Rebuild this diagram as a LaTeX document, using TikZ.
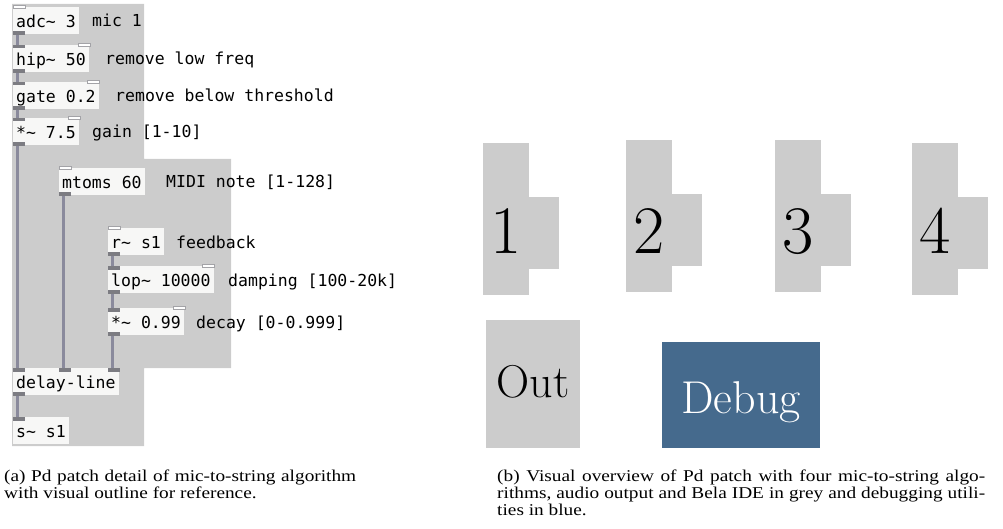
\documentclass[tikz,border=0pt]{standalone}
\usepackage{fontspec}
\usepackage{tikz}
\usetikzlibrary{positioning}
\newfontfamily\pdfont{DejaVu Sans Mono}
\newfontfamily\capfont[FakeStretch=1.17]{Liberation Serif}
\definecolor{patchgrey}{HTML}{CCCCCC}
\definecolor{objfill}{HTML}{F7F7F6}
\definecolor{portgrey}{HTML}{7C7C82}
\definecolor{cordgrey}{HTML}{8A8A9C}
\definecolor{debugblue}{HTML}{456A8D}

\begin{document}
\begin{tikzpicture}[
  x=1pt, y=-1pt,
  obj/.style={fill=objfill, anchor=north west, font=\pdfont\fontsize{16.5}{20}\selectfont,
    inner xsep=3pt, inner ysep=5pt, text height=15pt, text depth=1.5pt},
  note/.style={anchor=base west, inner sep=0pt, font=\pdfont\fontsize{16.5}{20}\selectfont},
  cord/.style={draw=cordgrey, line width=3pt},
  sigport/.style={fill=portgrey},
  ctlport/.style={fill=white, draw=portgrey!70, line width=0.8pt},
  block/.style={fill=patchgrey},
  big/.style={anchor=base, inner sep=0pt, font=\fontsize{68}{70}\selectfont},
  label/.style={anchor=base, inner sep=0pt, font=\fontsize{46}{50}\selectfont},
  capline/.style={anchor=base west, inner sep=0pt, font=\capfont\fontsize{16.5}{17}\selectfont}
]
\useasboundingbox (0,0) rectangle (1003,529);

\fill[patchgrey] (12,4) -| (144,159) -| (231,368) -| (144,446) -| cycle;

\node[obj] (adc) at (13,7) {adc\textasciitilde{} 3};
\node[obj] (hip) at (13,45) {hip\textasciitilde{} 50};
\node[obj] (gate) at (13,82) {gate 0.2};
\node[obj] (gain) at (13,118) {*\textasciitilde{} 7.5};
\node[obj] (mtoms) at (59,168) {mtoms 60};
\node[obj] (recv) at (108,228) {r\textasciitilde{} s1};
\node[obj] (lop) at (108,266) {lop\textasciitilde{} 10000};
\node[obj] (decay) at (108,308) {*\textasciitilde{} 0.99};
\node[obj] (delay) at (13,368) {delay-line};
\node[obj] (send) at (13,417) {s\textasciitilde{} s1};

\node[note] (adcnote) at (92,27) {mic 1};
\node[note] (hipnote) at (105,65) {remove low freq};
\node[note] (gatenote) at (115,102) {remove below threshold};
\node[note] (gainnote) at (92,138) {gain [1-10]};
\node[note] (mtomsnote) at (166,188) {MIDI note [1-128]};
\node[note] (recvnote) at (176,248) {feedback};
\node[note] (lopnote) at (228,286) {damping [100-20k]};
\node[note] (decaynote) at (196,328) {decay [0-0.999]};

\draw[cord] ([xshift=4pt]adc.south west) -- ([xshift=4pt]hip.north west);
\draw[cord] ([xshift=4pt]hip.south west) -- ([xshift=4pt]gate.north west);
\draw[cord] ([xshift=4pt]gate.south west) -- ([xshift=4pt]gain.north west);
\draw[cord] ([xshift=4pt]gain.south west) -- ([xshift=4pt]delay.north west);
\draw[cord] ([xshift=4pt]mtoms.south west) -- ([xshift=4pt]mtoms.south west |- delay.north);
\draw[cord] ([xshift=4pt]recv.south west) -- ([xshift=4pt]lop.north west);
\draw[cord] ([xshift=4pt]lop.south west) -- ([xshift=4pt]decay.north west);
\draw[cord] ([xshift=4pt]decay.south west) -- ([xshift=4pt]decay.south west |- delay.north);
\draw[cord] ([xshift=4pt]delay.south west) -- ([xshift=4pt]send.north west);

\draw[ctlport] ([yshift=2pt]adc.north west) rectangle ++(12,3);
\draw[ctlport] ([yshift=2pt]mtoms.north west) rectangle ++(12,3);
\draw[ctlport] ([yshift=2pt]recv.north west) rectangle ++(12,3);
\draw[ctlport] ([xshift=-11pt,yshift=2pt]hip.north east) rectangle ++(12,3);
\draw[ctlport] ([xshift=-11pt,yshift=2pt]gate.north east) rectangle ++(12,3);
\draw[ctlport] ([xshift=-11pt,yshift=2pt]gain.north east) rectangle ++(12,3);
\draw[ctlport] ([xshift=-11pt,yshift=2pt]lop.north east) rectangle ++(12,3);
\draw[ctlport] ([xshift=-11pt,yshift=2pt]decay.north east) rectangle ++(12,3);

\fill[sigport] (hip.north west) rectangle ++(12,3.5);
\fill[sigport] (gate.north west) rectangle ++(12,3.5);
\fill[sigport] (gain.north west) rectangle ++(12,3.5);
\fill[sigport] (lop.north west) rectangle ++(12,3.5);
\fill[sigport] (decay.north west) rectangle ++(12,3.5);
\fill[sigport] (send.north west) rectangle ++(12,3.5);
\fill[sigport] (delay.north west) rectangle ++(12,3.5);
\fill[sigport] (delay.north west -| mtoms.west) rectangle ++(12,3.5);
\fill[sigport] ([xshift=-11pt]delay.north east) rectangle ++(12,3.5);
\fill[sigport] ([yshift=-1pt]adc.south west) rectangle ++(12,-3.5);
\fill[sigport] ([yshift=-1pt]hip.south west) rectangle ++(12,-3.5);
\fill[sigport] ([yshift=-1pt]gate.south west) rectangle ++(12,-3.5);
\fill[sigport] ([yshift=-1pt]gain.south west) rectangle ++(12,-3.5);
\fill[sigport] ([yshift=-1pt]mtoms.south west) rectangle ++(12,-3.5);
\fill[sigport] ([yshift=-1pt]recv.south west) rectangle ++(12,-3.5);
\fill[sigport] ([yshift=-1pt]lop.south west) rectangle ++(12,-3.5);
\fill[sigport] ([yshift=-1pt]decay.south west) rectangle ++(12,-3.5);
\fill[sigport] ([yshift=-1pt]delay.south west) rectangle ++(12,-3.5);

\foreach \n/\x/\y in {1/483/143, 2/626/140, 3/775/140, 4/912/143} {
  \fill[block] (\x,\y) rectangle ++(46,152);
  \fill[block] (\x+46,\y+54) rectangle ++(30,72);
  \node[big] (alg\n) at (\x+23,254) {\n};
}

\fill[block] (486,320) rectangle (580,448);
\node[label] (out) at (533,397) {Out};
\fill[debugblue] (662,342) rectangle (820,448);
\node[label, text=white] (debug) at (741,413) {Debug};

\node[capline] (capa1) at (4,481) {\makebox[352pt][s]{(a) Pd patch detail of mic-to-string algorithm}};
\node[capline] (capa2) at (4,498) {with visual outline for reference.};
\node[capline] (capb1) at (497,481) {\makebox[488pt][s]{(b) Visual overview of Pd patch with four mic-to-string algo-}};
\node[capline] (capb2) at (497,498) {\makebox[488pt][s]{rithms, audio output and Bela IDE in grey and debugging utili-}};
\node[capline] (capb3) at (497,515) {ties in blue.};
\end{tikzpicture}
\end{document}
